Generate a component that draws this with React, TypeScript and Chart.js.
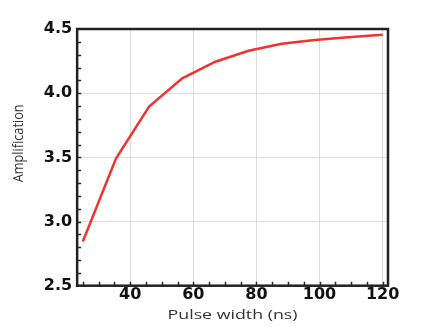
import React, { useEffect, useRef } from "react";
import { Chart, registerables } from "chart.js";

Chart.register(...registerables);

const pulseWidth = [25, 35.5, 46, 56.5, 67, 77.5, 88, 98.5, 109, 120];
const amplification = [2.845, 3.49, 3.895, 4.115, 4.245, 4.33, 4.385, 4.415, 4.435, 4.455];
const xMajorTicks = [40, 60, 80, 100, 120];
const xMinorTicks = [25, 30, 35, 40, 45, 50, 55, 60, 65, 70, 75, 80, 85, 90, 95, 100, 105, 110, 115, 120];
const yMajorTicks = [2.5, 3.0, 3.5, 4.0, 4.5];
const yMinorTicks = [2.6, 2.7, 2.8, 2.9, 3.0, 3.1, 3.2, 3.3, 3.4, 3.5, 3.6, 3.7, 3.8, 3.9, 4.0, 4.1, 4.2, 4.3, 4.4];
const yTitle = "Amplification";
const xTitle = "Pulse width (ns)";

const framePlugin = {
  id: "frame",
  afterDraw(chart: any) {
    const { ctx, chartArea, scales } = chart;
    const { left, right, top, bottom } = chartArea;
    ctx.save();
    ctx.strokeStyle = "#2a2a2a";
    ctx.lineWidth = 1.5;
    ctx.beginPath();
    for (const v of xMinorTicks) {
      const px = Math.round(scales.x.getPixelForValue(v)) + 0.5;
      ctx.moveTo(px, bottom);
      ctx.lineTo(px, bottom - 4);
    }
    for (const v of yMinorTicks) {
      const py = Math.round(scales.y.getPixelForValue(v)) + 0.5;
      ctx.moveTo(left, py);
      ctx.lineTo(left + 4, py);
    }
    ctx.stroke();
    ctx.lineWidth = 2.5;
    ctx.strokeStyle = "#222";
    ctx.strokeRect(left, top, right - left, bottom - top);
    ctx.restore();

    // x axis title (wide, as in the reference)
    ctx.save();
    ctx.fillStyle = "#333";
    ctx.font = "13px 'Open Sans'";
    ctx.textAlign = "center";
    ctx.textBaseline = "alphabetic";
    const w = ctx.measureText(xTitle).width;
    ctx.translate((left + right) / 2, bottom + 33);
    ctx.scale(130 / w, 1);
    ctx.fillText(xTitle, 0, 0);
    ctx.restore();

    // y axis title (condensed, slightly above the plot centre as in the reference)
    ctx.save();
    ctx.fillStyle = "#333";
    ctx.font = "15px 'Open Sans'";
    ctx.textAlign = "center";
    ctx.textBaseline = "middle";
    const wy = ctx.measureText(yTitle).width;
    ctx.translate(19, (top + bottom) / 2 - 14);
    ctx.rotate(-Math.PI / 2);
    ctx.scale(78 / wy, 1);
    ctx.fillText(yTitle, 0, 0);
    ctx.restore();
  },
};

export default function App() {
  const ref = useRef<HTMLCanvasElement | null>(null);
  useEffect(() => {
    if (!ref.current) return;
    const chart = new Chart(ref.current, {
      type: "line",
      data: {
        datasets: [
          {
            data: pulseWidth.map((x, i) => ({ x, y: amplification[i] })),
            borderColor: "rgb(240,52,45)",
            borderWidth: 2.5,
            pointRadius: 0,
            tension: 0,
            fill: false,
          },
        ],
      },
      options: {
        animation: false,
        responsive: true,
        maintainAspectRatio: false,
        layout: { padding: { left: 8, top: 29, right: 48, bottom: 5 } },
        plugins: { legend: { display: false }, tooltip: { enabled: false } },
        scales: {
          x: {
            type: "linear",
            min: 23.2,
            max: 121.7,
            afterBuildTicks: (s: any) => {
              s.ticks = xMajorTicks.map((v) => ({ value: v }));
            },
            grid: { color: "#dcdcdc", lineWidth: 1, drawTicks: false },
            border: { display: false },
            ticks: {
              padding: 0.5,
              color: "#111",
              font: { family: "DejaVu Sans", weight: "bold", size: 16, lineHeight: 1.05 },
              maxRotation: 0,
            },
            title: {
              display: true,
              text: xTitle,
              color: "rgba(0,0,0,0)",
              font: { family: "Open Sans", size: 14, lineHeight: 1.0 },
              padding: { top: 0.5, bottom: 4 },
            },
          },
          y: {
            type: "linear",
            min: 2.5,
            max: 4.5,
            afterBuildTicks: (s: any) => {
              s.ticks = yMajorTicks.map((v) => ({ value: v }));
            },
            grid: { color: "#dcdcdc", lineWidth: 1, drawTicks: false },
            border: { display: false },
            ticks: {
              padding: 5,
              color: "#111",
              font: { family: "DejaVu Sans", weight: "bold", size: 16 },
              callback: (v: any) => Number(v).toFixed(1),
            },
            title: {
              display: true,
              text: yTitle,
              color: "rgba(0,0,0,0)",
              font: { family: "Open Sans", size: 14, lineHeight: 1.2 },
              padding: { top: 2, bottom: 12 },
            },
          },
        },
      },
      plugins: [framePlugin],
    } as any);
    return () => chart.destroy();
  }, []);
  return (
    <div style={{ position: "fixed", left: 0, top: 0, width: 436, height: 327, background: "#fff" }}>
      <canvas ref={ref} />
    </div>
  );
}
